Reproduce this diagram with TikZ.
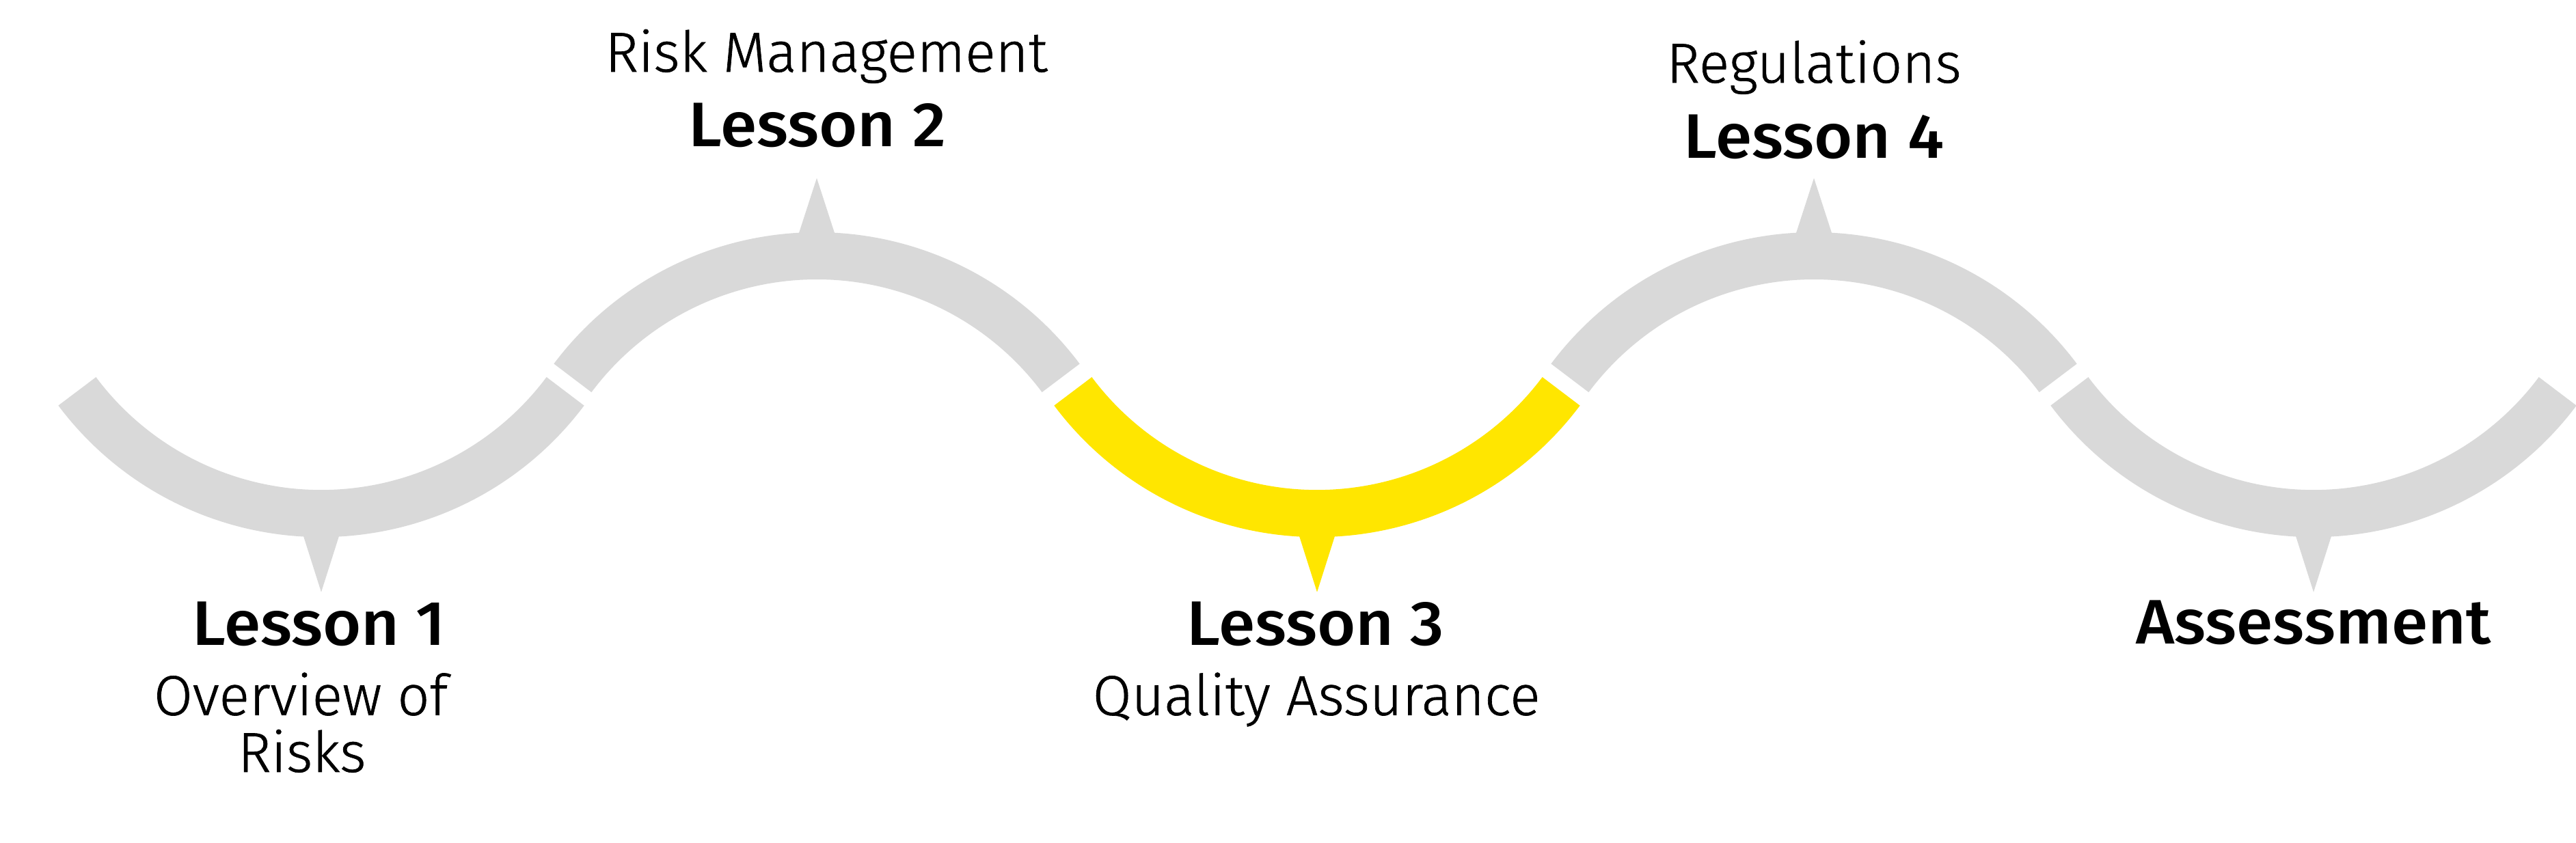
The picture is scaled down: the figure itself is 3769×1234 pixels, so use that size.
\documentclass[tikz,border=0pt]{standalone}
\usepackage{fontspec}
\setmainfont{Fira Sans}
\newfontfamily\subfont{Fira Sans Light}[FakeBold=0.8]
\newfontfamily\lessonfont{Fira Sans Medium}[FakeStretch=1.05]
\definecolor{bandgray}{HTML}{D9D9D9}
\definecolor{eyyellow}{HTML}{FFE600}
\begin{document}
\begin{tikzpicture}[x=1pt,y=1pt,
  band/.style={line width=69pt},
  lesson/.style={font=\lessonfont\fontsize{92}{110}\selectfont, anchor=base, inner sep=0pt},
  subtitle/.style={font=\subfont\fontsize{82.5}{83.3}\selectfont, anchor=base, inner sep=0pt}]
\fill[white] (0,0) rectangle (3769,1234);
\useasboundingbox (0,0) rectangle (3769,1234);
% circle centres of the wave segments
\coordinate (c1) at (470,928.3);
\coordinate (c2) at (1195,413.5);
\coordinate (c3) at (1927,928.3);
\coordinate (c4) at (2654,413.5);
\coordinate (c5) at (3385,928.3);
% bottom segments
\draw[band, bandgray] (c1) ++(216.8:446) arc[start angle=216.8, end angle=323.2, radius=446];
\draw[band, eyyellow] (c3) ++(216.8:446) arc[start angle=216.8, end angle=323.2, radius=446];
\draw[band, bandgray] (c5) ++(216.8:446) arc[start angle=216.8, end angle=323.2, radius=446];
% top segments
\draw[band, bandgray] (c2) ++(36.8:446) arc[start angle=36.8, end angle=143.2, radius=446];
\draw[band, bandgray] (c4) ++(36.8:446) arc[start angle=36.8, end angle=143.2, radius=446];
% pointers
\fill[bandgray] (c1) ++(-27,-476) -- ++(54,0) -- ++(-27,-85) -- cycle;
\fill[eyyellow] (c3) ++(-27,-476) -- ++(54,0) -- ++(-27,-85) -- cycle;
\fill[bandgray] (c5) ++(-27,-476) -- ++(54,0) -- ++(-27,-85) -- cycle;
\fill[bandgray] (c2) ++(-27,476.5) -- ++(54,0) -- ++(-27,83.3) -- cycle;
\fill[bandgray] (c4) ++(-27,476.5) -- ++(54,0) -- ++(-27,83.3) -- cycle;
% labels
\node[lesson] (l1) at (467,289) {Lesson 1};
\node[subtitle] (s1a) at (440,187.3) {Overview of};
\node[subtitle] (s1b) at (441.7,104) {Risks};
\node[subtitle] (s2) at (1209,1129) {Risk Management};
\node[lesson] (l2) at (1196,1019) {Lesson 2};
\node[lesson] (l3) at (1925,289) {Lesson 3};
\node[subtitle] (s3) at (1926,187.3) {Quality Assurance};
\node[subtitle] (s4) at (2654,1113) {Regulations};
\node[lesson] (l4) at (2654,1002) {Lesson 4};
\node[lesson] (l5) at (3385,291) {Assessment};
\end{tikzpicture}
\end{document}
